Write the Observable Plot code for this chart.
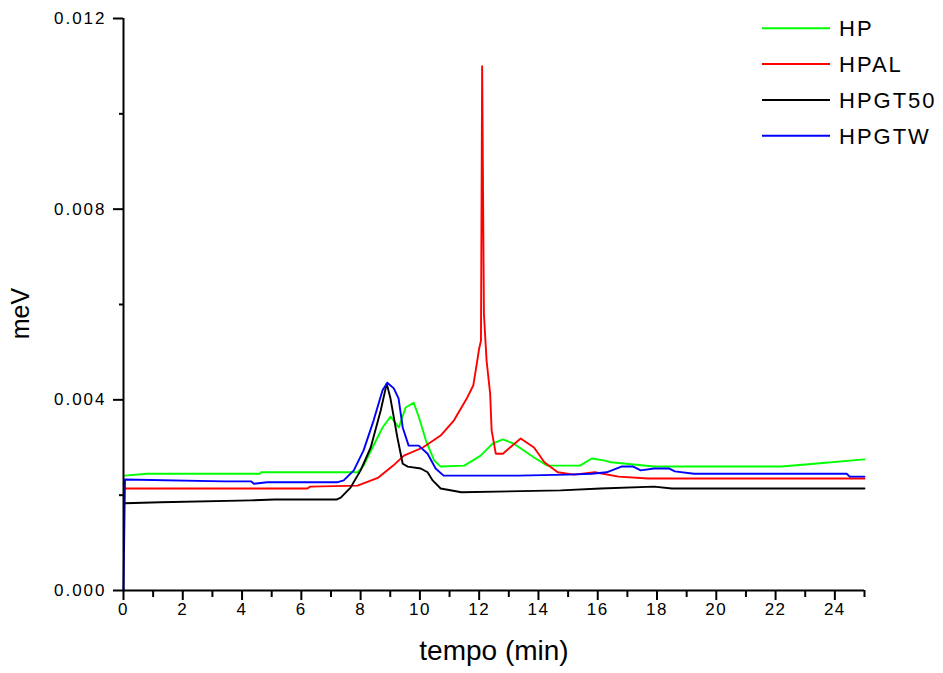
<!DOCTYPE html>
<html><head><meta charset="utf-8">
<script src="https://cdn.jsdelivr.net/npm/d3@7"></script>
<script src="https://cdn.jsdelivr.net/npm/@observablehq/plot@0.6"></script>
<style>
body{margin:0;background:#fff;}
svg{font-family:Arial,"Liberation Sans",sans-serif;}
g[aria-label="y-axis tick label"] text{letter-spacing:2px;}
g[aria-label="x-axis tick label"] text{letter-spacing:1.5px;}
</style>
</head><body><div id="chart"></div>
<script>
const seriesNames = ["HP", "HPAL", "HPGT50", "HPGTW"];
const seriesColors = ["#00ff00", "#ff0000", "#000000", "#0000ff"];

const hpTime = [0.05,0.8,4.6,4.65,7.9,8.1,8.4,8.74,9.01,9.29,9.52,9.79,9.97,10.2,10.48,10.7,11.5,12.05,12.45,12.8,13.17,13.85,14.3,15.4,15.8,16.2,16.45,17.9,22.2,23.3,25];
const hpValue = [0.00241,0.00245,0.00245,0.00248,0.00248,0.00262,0.00300,0.00342,0.00365,0.00342,0.00384,0.00394,0.00363,0.00315,0.00273,0.00260,0.00262,0.00283,0.00308,0.00317,0.00308,0.00279,0.00262,0.00262,0.00277,0.00273,0.00269,0.00260,0.00260,0.00266,0.00275];

const hpalTime = [0.05,6.2,6.3,7.9,8.6,9.1,9.46,10.1,10.7,11.15,11.6,11.8,11.92,12.0,12.06,12.1,12.16,12.25,12.37,12.42,12.56,12.8,13.4,13.85,14.2,14.65,15.2,15.9,16.7,17.7,25];
const hpalValue = [0.00214,0.00214,0.00218,0.00220,0.00237,0.00262,0.00283,0.00300,0.00325,0.00357,0.00405,0.00430,0.00476,0.00508,0.00524,0.01100,0.00580,0.00482,0.00413,0.00336,0.00287,0.00287,0.00319,0.00300,0.00269,0.00248,0.00243,0.00248,0.00239,0.00235,0.00235];

const hpgt50Time = [0.05,1.25,4.3,5.1,7.2,7.33,7.66,8.0,8.34,8.68,8.88,9.0,9.24,9.42,9.59,10.03,10.26,10.43,10.7,11.4,14.75,16.1,17.9,18.5,25];
const hpgt50Value = [0.00183,0.00185,0.00189,0.00191,0.00191,0.00195,0.00216,0.00252,0.00300,0.00378,0.00434,0.00405,0.00321,0.00266,0.00260,0.00256,0.00248,0.00231,0.00214,0.00206,0.00210,0.00214,0.00218,0.00214,0.00214];

const hpgtwTime = [0,0.05,3.4,4.3,4.4,4.85,7.2,7.43,7.77,8.1,8.44,8.74,8.9,9.12,9.28,9.42,9.62,9.96,10.26,10.53,10.8,13.3,15.0,15.8,16.3,16.8,17.2,17.45,17.9,18.4,18.6,19.25,24.4,24.5,25];
const hpgtwValue = [0,0.00233,0.00229,0.00229,0.00224,0.00227,0.00227,0.00231,0.00252,0.00294,0.00357,0.00420,0.00436,0.00424,0.00403,0.00342,0.00304,0.00304,0.00287,0.00256,0.00241,0.00241,0.00243,0.00245,0.00248,0.00260,0.00260,0.00252,0.00256,0.00256,0.00250,0.00245,0.00245,0.00239,0.00239];

const xMajorTicks = [0,2,4,6,8,10,12,14,16,18,20,22,24];
const xMinorTicks = [1,3,5,7,9,11,13,15,17,19,21,23,25];
const yMajorTicks = [0,0.004,0.008,0.012];
const yMinorTicks = [0.002,0.006,0.010];
const xLabel = "tempo (min)";
const yLabel = "meV";

const seriesData = [[hpTime,hpValue],[hpalTime,hpalValue],[hpgt50Time,hpgt50Value],[hpgtwTime,hpgtwValue]];
const rows = [];
seriesData.forEach(([ts, vs], i) => ts.forEach((t, j) => rows.push({series: seriesNames[i], t, v: vs[j]})));

function legendMark() {
  const g = d3.create("svg:g").attr("font-size", 22).attr("letter-spacing", "2px")
    .attr("fill", "#000").attr("text-anchor", "start");
  seriesNames.forEach((name, i) => {
    const y = 28.3 + i * 35.8;
    g.append("line").attr("x1", 762).attr("x2", 830).attr("y1", y).attr("y2", y)
      .attr("stroke", seriesColors[i]).attr("stroke-width", 2);
    g.append("text").attr("x", 839).attr("y", y).attr("dy", "0.36em").attr("text-anchor", "start").text(name);
  });
  return g.node();
}

const chart = Plot.plot({
  width: 943, height: 673,
  marginLeft: 123, marginRight: 79, marginTop: 18, marginBottom: 83,
  style: {background: "#fff", fontFamily: "Arial, 'Liberation Sans', sans-serif", color: "#000"},
  x: {domain: [0, 25]},
  y: {domain: [0, 0.012]},
  color: {domain: seriesNames, range: seriesColors},
  marks: [
    Plot.line(rows, {x: "t", y: "v", z: "series", stroke: "series", strokeWidth: 1.9}),
    Plot.ruleY([0], {stroke: "#000", strokeWidth: 2}),
    Plot.ruleX([0], {stroke: "#000", strokeWidth: 2}),
    Plot.axisX({ticks: xMajorTicks, tickSize: 10, tickPadding: 2, fontSize: 17, tickFormat: d => String(d), label: null, strokeWidth: 2}),
    Plot.axisX({ticks: xMinorTicks, tickSize: 7, tickFormat: () => "", label: null, strokeWidth: 2}),
    Plot.axisY({ticks: yMajorTicks, tickSize: 10, tickPadding: 7, fontSize: 17, tickFormat: d3.format(".3f"), label: null, strokeWidth: 2}),
    Plot.axisY({ticks: yMinorTicks, tickSize: 4, tickFormat: () => "", label: null, strokeWidth: 2}),
    Plot.text([xLabel], {frameAnchor: "bottom", dy: 69, fontSize: 28, fill: "#000", textAnchor: "middle"}),
    Plot.text([yLabel], {frameAnchor: "left", dx: -103, dy: 9, rotate: -90, fontSize: 25, fill: "#000", textAnchor: "middle"}),
    legendMark
  ]
});
document.getElementById("chart").appendChild(chart);
</script>
</body></html>
